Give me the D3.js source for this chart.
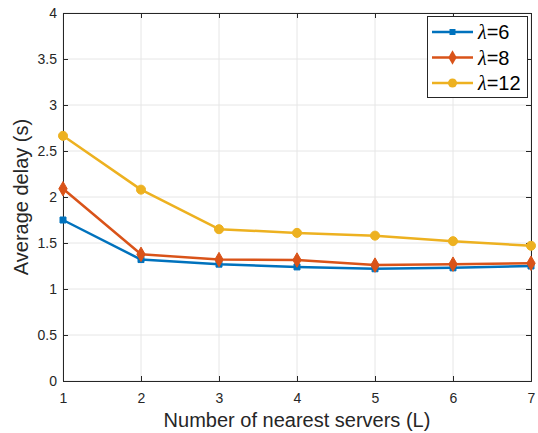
<!DOCTYPE html>
<html><head><meta charset="utf-8">
<script src="https://cdn.jsdelivr.net/npm/d3@7"></script>
<style>body{margin:0;background:#fff;}svg{display:block;font-family:Arial,"Liberation Sans",sans-serif;}</style>
</head><body>
<svg id="c" width="538" height="433"></svg>
<script>
const xValues = [1, 2, 3, 4, 5, 6, 7];
const seriesSymbol = "\u03bb";
const seriesValuesText = ["=6", "=8", "=12"];
const lambda6 = [1.75, 1.32, 1.27, 1.24, 1.22, 1.23, 1.25];
const lambda8 = [2.09, 1.377, 1.32, 1.315, 1.26, 1.27, 1.28];
const lambda12 = [2.665, 2.08, 1.65, 1.61, 1.58, 1.52, 1.47];
const yTicks = [0, 0.5, 1, 1.5, 2, 2.5, 3, 3.5, 4];
const yTickLabels = ["0", "0.5", "1", "1.5", "2", "2.5", "3", "3.5", "4"];
const xLabel = "Number of nearest servers (L)";
const yLabel = "Average delay (s)";

const colors = ["#0072BD", "#D95319", "#EDB120"];
const markers = [d3.symbolSquare, d3.symbolDiamond, d3.symbolCircle];
const markerSizes = [36, 60, 64];
const allSeries = [lambda6, lambda8, lambda12];

const svg = d3.select("#c");
const L = 63, R = 531, T = 13, B = 381;
const x = d3.scaleLinear().domain([1, 7]).range([L, R]);
const y = d3.scaleLinear().domain([0, 4]).range([B, T]);
const axisColor = "#262626";

// grid
const g = svg.append("g");
g.selectAll("line.gx").data(xValues).join("line")
  .attr("x1", d => x(d)).attr("x2", d => x(d)).attr("y1", T).attr("y2", B)
  .attr("stroke", "#e6e6e6").attr("stroke-width", 1);
g.selectAll("line.gy").data(yTicks).join("line")
  .attr("y1", d => y(d)).attr("y2", d => y(d)).attr("x1", L).attr("x2", R)
  .attr("stroke", "#e6e6e6").attr("stroke-width", 1);

// axes
const xAxis = d3.axisBottom(x).tickValues(xValues).tickFormat(d3.format("d")).tickSize(-5).tickPadding(12);
const yAxis = d3.axisLeft(y).tickValues(yTicks).tickFormat((d, i) => yTickLabels[i]).tickSize(-5).tickPadding(6);
const xa = svg.append("g").attr("transform", `translate(0,${B})`).call(xAxis);
const ya = svg.append("g").attr("transform", `translate(${L},0)`).call(yAxis);
const xa2 = svg.append("g").attr("transform", `translate(0,${T})`).call(d3.axisTop(x).tickValues(xValues).tickSize(-5).tickFormat(""));
const ya2 = svg.append("g").attr("transform", `translate(${R},0)`).call(d3.axisRight(y).tickValues(yTicks).tickSize(-5).tickFormat(""));
[xa, ya, xa2, ya2].forEach(a => {
  a.select(".domain").attr("stroke", axisColor).attr("stroke-width", 1);
  a.selectAll(".tick line").attr("stroke", axisColor);
  a.selectAll("text").attr("fill", axisColor).attr("font-size", 14).attr("font-family", "Arial, 'Liberation Sans', sans-serif");
});
xa.selectAll("text").attr("dy", "0.71em");

// lines
const line = d3.line().x((d, i) => x(xValues[i])).y(d => y(d));
allSeries.forEach((s, k) => {
  svg.append("path").datum(s).attr("d", line).attr("fill", "none")
    .attr("stroke", colors[k]).attr("stroke-width", 2.5).attr("stroke-linejoin", "round");
  svg.selectAll(null).data(s).join("path")
    .attr("transform", (d, i) => `translate(${x(xValues[i])},${y(d)})`)
    .attr("d", d3.symbol().type(markers[k]).size(markerSizes[k]))
    .attr("fill", colors[k]).attr("stroke", colors[k]).attr("stroke-width", 1);
});

// legend
const lg = svg.append("g");
lg.append("rect").attr("x", 427.5).attr("y", 16.5).attr("width", 100).attr("height", 81)
  .attr("fill", "#fff").attr("stroke", axisColor).attr("stroke-width", 1);
seriesValuesText.forEach((n, k) => {
  const yy = 32 + k * 25.5;
  lg.append("line").attr("x1", 432).attr("x2", 473).attr("y1", yy).attr("y2", yy)
    .attr("stroke", colors[k]).attr("stroke-width", 2.5);
  lg.append("path").attr("transform", `translate(452.5,${yy})`)
    .attr("d", d3.symbol().type(markers[k]).size(markerSizes[k])).attr("fill", colors[k]);
  const t = lg.append("text").attr("x", 478).attr("y", yy).attr("dy", "0.36em")
    .attr("font-size", 20).attr("fill", "#000");
  t.append("tspan").attr("font-family", "'Liberation Serif', 'DejaVu Serif', serif").attr("font-style", "italic").text(seriesSymbol);
  t.append("tspan").text(n);
});

// labels
svg.append("text").attr("x", (L + R) / 2).attr("y", 427).attr("text-anchor", "middle")
  .attr("font-size", 20).attr("fill", axisColor).text(xLabel);
svg.append("text").attr("transform", `translate(28,${(T + B) / 2}) rotate(-90)`).attr("text-anchor", "middle")
  .attr("font-size", 20).attr("fill", axisColor).text(yLabel);
</script>
</body></html>
